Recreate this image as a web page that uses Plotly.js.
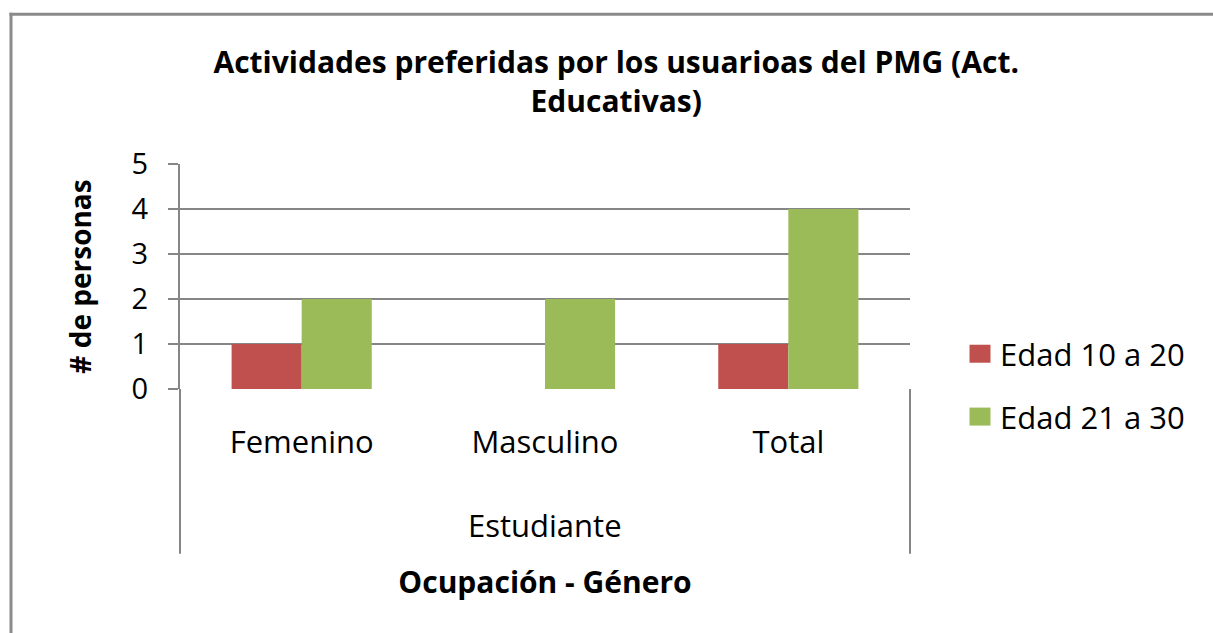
<!DOCTYPE html>
<html>
<head>
<meta charset="utf-8">
<script src="https://cdn.plot.ly/plotly-3.0.1.min.js"></script>
<style>body{margin:0;background:#fff}#chart{width:1213px;height:633px}</style>
</head>
<body>
<div id="chart"></div>
<script>
const chartTitle = "Actividades preferidas por los usuarioas del PMG (Act.<br>Educativas)";
const groupLabel = "Estudiante";
const categories = ["Femenino", "Masculino", "Total"];
const seriesNames = ["Edad 10 a 20", "Edad 21 a 30"];
const edad10a20 = [1, 0, 1];
const edad21a30 = [2, 2, 4];
const yTicks = [0, 1, 2, 3, 4, 5];
const xTitle = "Ocupación - Género";
const yTitle = "# de personas";

const FONT = "Open Sans, sans-serif";
const GRAY = "#868686";
const L = 180, R = 910, T = 163.5, B = 389;
const W = 1213, H = 633;
const pw = R - L, ph = B - T;
const px = v => (v - L) / pw;
const py = v => (B - v) / ph;

const traces = [
  {type: "bar", name: seriesNames[0], x: categories, y: edad10a20,
   marker: {color: "#C0504D"}, legend: "legend", hoverinfo: "none"},
  {type: "bar", name: seriesNames[1], x: categories, y: edad21a30,
   marker: {color: "#9BBB59"}, legend: "legend2", hoverinfo: "none"}
];

const layout = {
  width: W, height: H,
  margin: {l: L, r: W - R, t: T, b: H - B, pad: 0},
  paper_bgcolor: "#fff", plot_bgcolor: "#fff",
  font: {family: FONT, color: "#000", size: 31},
  title: {text: chartTitle, font: {family: FONT, size: 30, weight: "bold"},
          x: 0.508, xanchor: "center", y: 0.884, yanchor: "middle"},
  barmode: "group", bargap: 0.424, bargroupgap: 0,
  xaxis: {type: "category", showline: false, ticks: "", showgrid: false,
          tickfont: {family: FONT, size: 31, color: "#000"},
          ticklabelstandoff: 32,
          title: {text: xTitle, font: {family: FONT, size: 30, weight: "bold"}, standoff: 110},
          zeroline: false, automargin: false},
  yaxis: {range: [0, 5], tickvals: yTicks, ticks: "outside", ticklen: 10, tickwidth: 2,
          tickcolor: GRAY, showline: true, linecolor: GRAY, linewidth: 2,
          showgrid: true, gridcolor: GRAY, gridwidth: 2, zeroline: false,
          tickfont: {family: FONT, size: 29, color: "#000"}, ticklabelstandoff: 14,
          title: {text: yTitle, font: {family: FONT, size: 28, weight: "bold"}, standoff: 32},
          automargin: false},
  showlegend: true,
  legend: {x: px(960), xanchor: "left", y: py(354), yanchor: "middle",
           font: {family: FONT, size: 31}, bgcolor: "rgba(0,0,0,0)"},
  legend2: {x: px(960), xanchor: "left", y: py(417), yanchor: "middle",
           font: {family: FONT, size: 31}, bgcolor: "rgba(0,0,0,0)"},
  annotations: [
    {text: groupLabel, xref: "x", x: categories[Math.floor(categories.length / 2)],
     yref: "paper", y: py(525), yanchor: "middle", xanchor: "center", showarrow: false,
     font: {family: FONT, size: 31, color: "#000"}}
  ],
  shapes: [
    {type: "line", xref: "paper", yref: "paper", x0: px(11), x1: px(11), y0: py(12), y1: py(640),
     line: {color: "#8a8a8a", width: 3}},
    {type: "line", xref: "paper", yref: "paper", x0: px(9.5), x1: px(1220), y0: py(13.5), y1: py(13.5),
     line: {color: "#8a8a8a", width: 3}},
    {type: "line", xref: "paper", yref: "paper", x0: 0, x1: 0, y0: 0, y1: py(554),
     line: {color: GRAY, width: 2}},
    {type: "line", xref: "paper", yref: "paper", x0: 1, x1: 1, y0: 0, y1: py(554),
     line: {color: GRAY, width: 2}}
  ]
};

Plotly.newPlot("chart", traces, layout, {displayModeBar: false, responsive: false, staticPlot: true})
  .then(gd => {
    gd.querySelectorAll(".legendpoints path.legendundefined, .legendpoints .legendbar path, .legendpoints path")
      .forEach(p => p.setAttribute("d", "M10.5,9H-10.5V-9H10.5Z"));
  });
</script>
</body>
</html>
